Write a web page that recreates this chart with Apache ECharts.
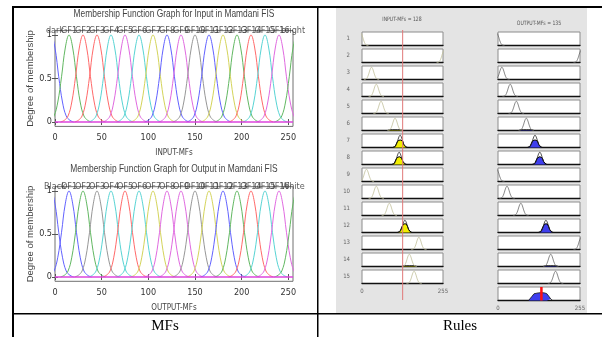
<!DOCTYPE html>
<html><head><meta charset="utf-8">
<script src="https://cdn.jsdelivr.net/npm/echarts@6/dist/echarts.min.js"></script>
<style>html,body{margin:0;padding:0;background:#fff}#c{width:602px;height:337px}</style>
</head><body><div id="c"></div>
<script>
// ---------------- data ----------------
const mfProfileOffsets = [-24, -20, -16, -12, -8, -4, 0, 4, 8, 12, 16, 20, 24];
const mfProfileValues  = [0, 0.02, 0.07, 0.23, 0.52, 0.85, 1, 0.85, 0.52, 0.23, 0.07, 0.02, 0];

const inputMfNames = ['dark','GF1','GF2','GF3','GF4','GF5','GF6','GF7','GF8','GF9','GF10','GF11','GF12','GF13','GF14','GF15','GF16','bright'];
const inputMfCenters = [-4, 15, 30, 45, 60, 75, 90, 105, 120, 135, 150, 165, 180, 195, 210, 225, 240, 259];
const inputMfColors = ['b','g','r','r','c','m','c','y','b','m','k','b','y','g','r','c','m','g'];

const outputMfNames = ['Black','OF1','OF2','OF3','OF4','OF5','OF6','OF7','OF8','OF9','OF10','OF11','OF12','OF13','OF14','OF15','OF16','White'];
const outputMfCenters = [-4, 15, 30, 45, 60, 75, 90, 105, 120, 135, 150, 165, 180, 195, 210, 225, 240, 259];
const outputMfColors = ['b','b','g','k','c','r','c','y','m','m','k','y','b','g','r','c','m','g'];

const xRange = [0, 255];
const xTicks = [0, 50, 100, 150, 200, 250];
const yTicks = [0, 0.5, 1];

const ruleRows = [1,2,3,4,5,6,7,8,9,10,11,12,13,14,15];
const ruleInputCenters  = [-4, 259, 30, 45, 60, 104, 120, 117, 14, 45, 86, 135, 179, 149, 164];
const ruleOutputCenters = [-4, 259, 12, 38, 57, 88, 115, 130, -4, 28, 71, 149, 259, 164, 179];
const ruleFire          = [0, 0, 0, 0, 0, 0.05, 0.62, 0.64, 0, 0, 0, 0.7, 0, 0.05, 0];
const ruleTicks = [0, 255];
const inputValue = 128;
const outputValue = 135;
const aggX = [95, 100, 106, 112, 118, 125, 135, 145, 152, 158, 164, 170];
const aggY = [0, 0.1, 0.35, 0.55, 0.62, 0.62, 0.64, 0.62, 0.55, 0.35, 0.12, 0];

// ---------------- styles ----------------
const PALETTE = {b:'#6262ff', g:'#62b862', r:'#ff6a6a', c:'#58d4d4', m:'#e06ae0', y:'#d4d45a', k:'#979797'};
const NARROW = '"Liberation Sans Narrow","DejaVu Sans Condensed","Arial Narrow","Liberation Sans",sans-serif';
const SANS = '"Liberation Sans",Arial,sans-serif';
const SERIF = '"Liberation Serif","Times New Roman",serif';

const grid = [], xAxis = [], yAxis = [], series = [];

function profileCurve(center, clip) {
  return mfProfileOffsets.map((o, k) => [center + o, clip == null ? mfProfileValues[k] : Math.min(mfProfileValues[k], clip)]);
}

function mfPlot(top, height, names, centers, colors, xName) {
  const gi = grid.length;
  grid.push({left: 55, top: top, width: 238, height: height, show: true, borderColor: '#707070', borderWidth: 1, backgroundColor: '#fff'});
  const xi = xAxis.length;
  const tick = {show: true, inside: true, length: 3, customValues: xTicks, lineStyle: {color: '#555'}};
  xAxis.push({gridIndex: gi, type: 'value', min: xRange[0], max: xRange[1], position: 'bottom',
    axisLine: {show: false}, splitLine: {show: false}, axisTick: tick,
    axisLabel: {show: true, customValues: xTicks, margin: 7, fontFamily: NARROW, fontSize: 9, color: '#333'},
    name: xName, nameLocation: 'middle', nameGap: 23, nameTextStyle: {fontFamily: NARROW, fontSize: 8, color: '#444'}});
  xAxis.push({gridIndex: gi, type: 'value', min: xRange[0], max: xRange[1], position: 'top',
    axisLine: {show: false}, splitLine: {show: false}, axisTick: tick, axisLabel: {show: false}});
  const yi = yAxis.length;
  const ytick = {show: true, inside: true, length: 3, customValues: yTicks, lineStyle: {color: '#555'}};
  yAxis.push({gridIndex: gi, type: 'value', min: -0.05, max: 1.05, position: 'left',
    axisLine: {show: false}, splitLine: {show: false}, axisTick: ytick,
    axisLabel: {show: true, customValues: yTicks, margin: 3, fontFamily: NARROW, fontSize: 9, color: '#333'},
    name: 'Degree of membership', nameLocation: 'middle', nameGap: 16, nameRotate: 90,
    nameTextStyle: {fontFamily: SANS, fontSize: 9.5, color: '#444'}});
  yAxis.push({gridIndex: gi, type: 'value', min: -0.05, max: 1.05, position: 'right',
    axisLine: {show: false}, splitLine: {show: false}, axisTick: ytick, axisLabel: {show: false}});
  for (let k = 0; k < centers.length; k++) {
    series.push({type: 'line', xAxisIndex: xi, yAxisIndex: yi, data: profileCurve(centers[k]),
      smooth: 0.4, symbol: 'none', clip: true, lineStyle: {color: PALETTE[colors[k]], width: 1}});
  }
  series.push({type: 'line', xAxisIndex: xi, yAxisIndex: yi, data: [[xRange[0], 0], [xRange[1], 0]],
    symbol: 'none', lineStyle: {color: '#dd44dd', width: 1.6}});
  series.push({type: 'scatter', xAxisIndex: xi, yAxisIndex: yi, clip: false, symbolSize: 1,
    itemStyle: {color: 'transparent'},
    data: names.map((n, k) => ({name: n, value: [Math.min(Math.max(centers[k], xRange[0]), xRange[1]), 1.055]})),
    label: {show: true, position: 'inside', formatter: '{b}', fontFamily: NARROW, fontSize: 9, color: '#333'}});
}

mfPlot(30.6, 95.8, inputMfNames, inputMfCenters, inputMfColors, 'INPUT-MFs');
mfPlot(186.7, 94.6, outputMfNames, outputMfCenters, outputMfColors, 'OUTPUT-MFs');

// ---------------- rule viewer ----------------
const ROW_TOP = 32, ROW_STEP = 17, ROW_H = 13.5;
const IN_LEFT = 362, IN_W = 81, OUT_LEFT = 498, OUT_W = 82;

function ruleCell(left, width, top, showLabels, rowName) {
  const gi = grid.length;
  grid.push({left: left, top: top, width: width, height: ROW_H, show: true, backgroundColor: '#fff', borderColor: '#8c8c8c', borderWidth: 1});
  const xi = xAxis.length;
  xAxis.push({gridIndex: gi, type: 'value', min: xRange[0], max: xRange[1],
    axisLine: {show: true, onZero: false, lineStyle: {color: '#111', width: 1.3}}, axisTick: {show: false}, splitLine: {show: false},
    axisLabel: {show: showLabels, customValues: ruleTicks, margin: 5, fontSize: 6, color: '#666', fontFamily: NARROW}});
  const yi = yAxis.length;
  const ya = {gridIndex: gi, type: 'value', min: 0, max: 1.1, axisLine: {show: false}, axisTick: {show: false},
    axisLabel: {show: false}, splitLine: {show: false}};
  if (rowName) Object.assign(ya, {name: rowName, nameLocation: 'middle', nameRotate: 0, nameGap: 12,
    nameTextStyle: {fontSize: 6, color: '#666', fontFamily: NARROW}});
  yAxis.push(ya);
  return {xi, yi};
}

for (let r = 0; r < ruleRows.length; r++) {
  const top = ROW_TOP + r * ROW_STEP;
  const last = r === ruleRows.length - 1;
  const fire = ruleFire[r];
  const a = ruleCell(IN_LEFT, IN_W, top, last, String(ruleRows[r]));
  if (fire > 0) series.push({type: 'line', xAxisIndex: a.xi, yAxisIndex: a.yi, data: profileCurve(ruleInputCenters[r], fire),
    symbol: 'none', lineStyle: {color: '#000', width: 1}, areaStyle: {color: '#f2ee00', opacity: 1}});
  series.push({type: 'line', xAxisIndex: a.xi, yAxisIndex: a.yi, data: profileCurve(ruleInputCenters[r]),
    smooth: 0.4, symbol: 'none', lineStyle: {color: fire > 0.3 ? '#222' : '#c2c09a', width: 0.8}});
  const b = ruleCell(OUT_LEFT, OUT_W, top, false, null);
  if (fire > 0) series.push({type: 'line', xAxisIndex: b.xi, yAxisIndex: b.yi, data: profileCurve(ruleOutputCenters[r], fire),
    symbol: 'none', lineStyle: {color: '#000', width: 1}, areaStyle: {color: '#3f3fee', opacity: 1}});
  series.push({type: 'line', xAxisIndex: b.xi, yAxisIndex: b.yi, data: profileCurve(ruleOutputCenters[r]),
    smooth: 0.4, symbol: 'none', lineStyle: {color: fire > 0.3 ? '#222' : '#6a6a6a', width: 0.8}});
}

// aggregated output
const agg = ruleCell(OUT_LEFT, OUT_W, ROW_TOP + ruleRows.length * ROW_STEP, true, null);
series.push({type: 'line', xAxisIndex: agg.xi, yAxisIndex: agg.yi, data: aggX.map((x, k) => [x, aggY[k]]),
  symbol: 'none', lineStyle: {color: '#111', width: 0.8}, areaStyle: {color: '#3f3fee', opacity: 1}});
series.push({type: 'line', xAxisIndex: agg.xi, yAxisIndex: agg.yi, data: [[outputValue, 0], [outputValue, 1.1]],
  symbol: 'none', lineStyle: {color: '#ff1010', width: 2.5}, z: 5});

// input value line overlay
{
  const gi = grid.length;
  grid.push({left: IN_LEFT, top: 30, width: IN_W, height: 270, show: false});
  const xi = xAxis.length;
  xAxis.push({gridIndex: gi, type: 'value', min: xRange[0], max: xRange[1], show: false});
  const yi = yAxis.length;
  yAxis.push({gridIndex: gi, type: 'value', min: 0, max: 1, show: false});
  series.push({type: 'line', xAxisIndex: xi, yAxisIndex: yi, data: [[inputValue, 0], [inputValue, 1]],
    symbol: 'none', lineStyle: {color: '#e07878', width: 1}, z: 6});
}

// ---------------- table frame & texts ----------------
function txt(x, y, text, size, family, fill, sx) {
  return {type: 'text', z: 100, x: x, y: y, scaleX: sx || 1,
    style: {text: text, fontSize: size, fontFamily: family, fill: fill, textAlign: 'center', textVerticalAlign: 'middle', verticalAlign: 'middle'}};
}
const graphic = [
  {type: 'rect', z: -5, shape: {x: 336, y: 8, width: 251, height: 305}, style: {fill: '#e4e4e4'}},
  {type: 'rect', z: 100, shape: {x: 12, y: 6, width: 590, height: 2}, style: {fill: '#000'}},
  {type: 'rect', z: 100, shape: {x: 12, y: 6, width: 2, height: 331}, style: {fill: '#000'}},
  {type: 'rect', z: 100, shape: {x: 317, y: 6, width: 1.5, height: 331}, style: {fill: '#000'}},
  {type: 'rect', z: 100, shape: {x: 12, y: 313, width: 590, height: 1.5}, style: {fill: '#000'}},
  txt(165, 326, 'MFs', 15, SERIF, '#000'),
  txt(460, 326, 'Rules', 15, SERIF, '#000'),
  txt(174, 14, 'Membership Function Graph for Input in Mamdani FIS', 10.5, SANS, '#444', 0.8),
  txt(174, 169, 'Membership Function Graph for Output in Mamdani FIS', 10.5, SANS, '#444', 0.8),
  txt(402, 19, 'INPUT-MFs = ' + inputValue, 6, NARROW, '#555', 0.85),
  txt(539, 23, 'OUTPUT-MFs = ' + outputValue, 6, NARROW, '#555', 0.85)
];

const chart = echarts.init(document.getElementById('c'), null, {renderer: 'canvas', width: 602, height: 337});
chart.setOption({animation: false, backgroundColor: '#fff', grid, xAxis, yAxis, series, graphic});
</script>
</body></html>
